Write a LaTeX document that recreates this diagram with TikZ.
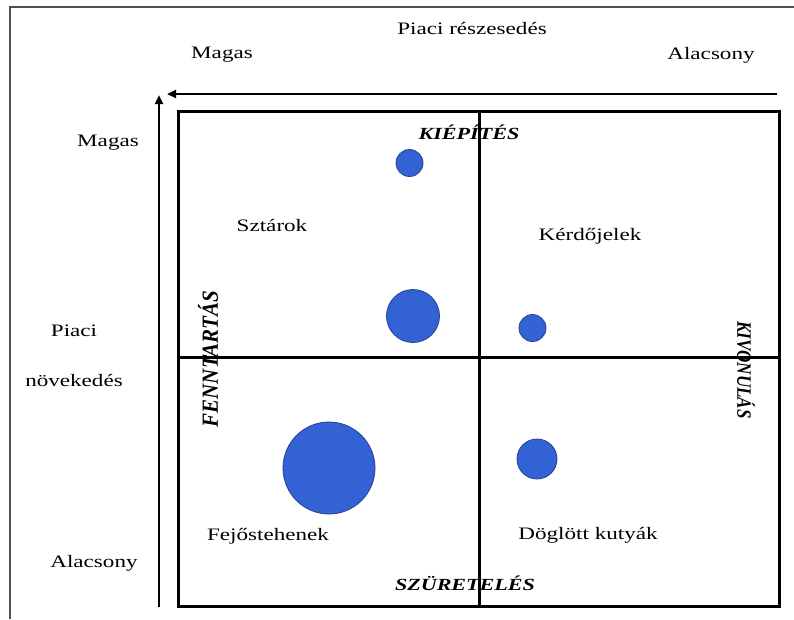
\documentclass[tikz,border=0pt]{standalone}
\usepackage{fontspec}
\setmainfont{Liberation Serif}
\usetikzlibrary{arrows.meta}
\definecolor{dotfill}{RGB}{50,98,212}
\definecolor{dotedge}{RGB}{38,64,150}
\definecolor{framegray}{RGB}{80,80,80}
\begin{document}
\begin{tikzpicture}[x=1pt,y=-1pt,
  lbl/.style={font=\fontsize{17.5}{19}\selectfont, xscale=1.32, inner sep=0pt},
  strat/.style={font=\fontsize{17}{19}\selectfont\bfseries\itshape, inner sep=0pt},
  dot/.style={circle, fill=dotfill, draw=dotedge, line width=0.8pt, inner sep=0pt},
  axisline/.style={line width=2.5pt, -{Triangle[length=9pt,width=8pt]}},
  gridline/.style={line width=3pt}]
\useasboundingbox (0,0) rectangle (794,619);
\fill[white] (0,0) rectangle (794,619);
% frame of the page
\draw[framegray, line width=1.5pt] (10,619) -- (10,7) -- (794,7);

% axes
\coordinate (hs) at (777,94);
\coordinate (he) at (167,94);
\coordinate (vs) at (159,607);
\coordinate (ve) at (159,95);
\draw[axisline] (hs) -- (he);
\draw[axisline] (vs) -- (ve);

% matrix
\coordinate (tl) at (178,111);
\coordinate (br) at (779,606);
\coordinate (mt) at (479,111);
\coordinate (mb) at (479,606);
\coordinate (ml) at (178,357);
\coordinate (mr) at (779,357);
\draw[gridline] (tl) rectangle (br);
\draw[gridline] (mt) -- (mb);
\draw[gridline] (ml) -- (mr);

% axis labels
\node[lbl] (share) at (472,28) {Piaci részesedés};
\node[lbl] (hiS) at (222,55) {Magas};
\node[lbl] (loS) at (711,55) {Alacsony};
\node[lbl] (hiG) at (108,143) {Magas};
\node[lbl] (gr1) at (74,331) {Piaci};
\node[lbl] (gr2) at (74,380) {növekedés};
\node[lbl] (loG) at (94,563) {Alacsony};

% quadrants
\node[lbl] (stars) at (272,225) {Sztárok};
\node[lbl] (quest) at (590,236) {Kérdőjelek};
\node[lbl] (cows) at (268,536) {Fejőstehenek};
\node[lbl] (dogs) at (588,535) {Döglött kutyák};

% strategies
\node[strat, xscale=1.3] (build) at (469,132) {KIÉPÍTÉS};
\node[strat, xscale=1.3] (harvest) at (465,583) {SZÜRETELÉS};
\node[strat, font=\fontsize{21}{23}\selectfont\bfseries\itshape, rotate=90, yscale=1.1] (hold) at (208,359) {FENNTARTÁS};
\node[strat, rotate=-90, yscale=1.2] (divest) at (746,370) {KIVONULÁS};

% business units
\node[dot, minimum size=27pt] (u1) at (409.5,163) {};
\node[dot, minimum size=53pt] (u2) at (413,316) {};
\node[dot, minimum size=27pt] (u3) at (532.5,328) {};
\node[dot, minimum size=92pt] (u4) at (329,468) {};
\node[dot, minimum size=40pt] (u5) at (537,459) {};
\end{tikzpicture}
\end{document}
